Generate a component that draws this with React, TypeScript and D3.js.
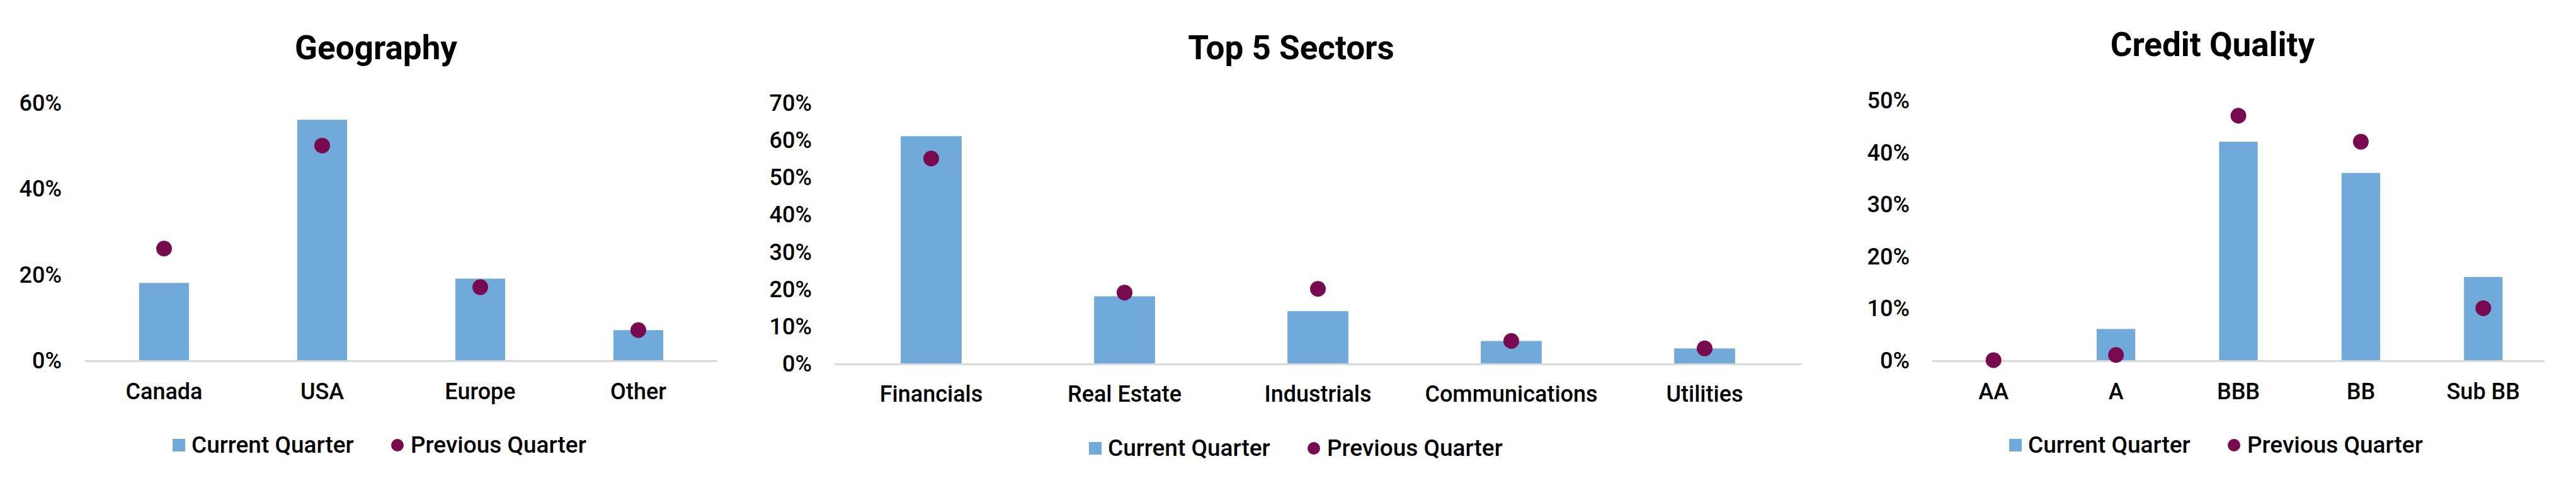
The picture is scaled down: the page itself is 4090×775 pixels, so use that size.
import * as d3 from "d3";

// values in percent
const geoCategories = ["Canada", "USA", "Europe", "Other"];
const geoCurrent = [18, 56, 19, 7];
const geoPrevious = [26, 50, 17, 7];
const geoTicks = [0, 20, 40, 60];

const sectorCategories = ["Financials", "Real Estate", "Industrials", "Communications", "Utilities"];
const sectorCurrent = [61, 18, 14, 6, 4];
const sectorPrevious = [55, 19, 20, 6, 4];
const sectorTicks = [0, 10, 20, 30, 40, 50, 60, 70];

const creditCategories = ["AA", "A", "BBB", "BB", "Sub BB"];
const creditCurrent = [0, 6, 42, 36, 16];
const creditPrevious = [0, 1, 47, 42, 10];
const creditTicks = [0, 10, 20, 30, 40, 50];

const legendLabels = ["Current Quarter", "Previous Quarter"];

const BAR = "#6FAADB";
const DOT = "#780A4F";
const AXIS = "#D9D9D9";
const FONT = "Roboto, 'DejaVu Sans', sans-serif";

interface PanelProps {
  title: string;
  categories: string[];
  current: number[];
  previous: number[];
  ticks: number[];
  x0: number;
  x1: number;
  yBase: number;
  yTop: number;
  labelRight: number;
  titleX: number;
  titleY: number;
  catY: number;
  legendX: number;
  legendY: number;
}

function Panel(p: PanelProps) {
  const x = d3
    .scaleBand<string>()
    .domain(p.categories)
    .range([p.x0, p.x1])
    .paddingInner(0.685)
    .paddingOuter(0.3425);
  const max = p.ticks[p.ticks.length - 1];
  const y = d3.scaleLinear().domain([0, max]).range([p.yBase, p.yTop]);
  const fmt = (v: number) => `${v}%`;

  return (
    <g fontFamily={FONT} fontWeight={500}>
      <text x={p.titleX} y={p.titleY} textAnchor="middle" fontSize={53} fontWeight={700} fill="#000">
        {p.title}
      </text>
      {p.ticks.map((t) => (
        <text key={t} x={p.labelRight} y={y(t)} dy="0.36em" textAnchor="end" fontSize={36} fill="#000">
          {fmt(t)}
        </text>
      ))}
      {p.categories.map((c, i) => (
        <rect
          key={c}
          x={x(c)}
          y={y(p.current[i])}
          width={x.bandwidth()}
          height={p.yBase - y(p.current[i])}
          fill={BAR}
        />
      ))}
      <line x1={p.x0} x2={p.x1} y1={p.yBase + 1.5} y2={p.yBase + 1.5} stroke={AXIS} strokeWidth={3} />
      {p.categories.map((c, i) => (
        <circle key={c} cx={(x(c) ?? 0) + x.bandwidth() / 2} cy={y(p.previous[i])} r={12.5} fill={DOT} />
      ))}
      {p.categories.map((c) => (
        <text
          key={c}
          x={(x(c) ?? 0) + x.bandwidth() / 2}
          y={p.catY}
          textAnchor="middle"
          fontSize={36}
          fill="#000"
        >
          {c}
        </text>
      ))}
      <g transform={`translate(${p.legendX},${p.legendY})`}>
        <rect x={-329} y={-22} width={20} height={20} fill={BAR} />
        <text x={-299} y={0} fontSize={37} fill="#000">
          {legendLabels[0]}
        </text>
        <circle cx={28} cy={-12} r={10} fill={DOT} />
        <text x={49} y={0} fontSize={37} fill="#000">
          {legendLabels[1]}
        </text>
      </g>
    </g>
  );
}

export default function App() {
  return (
    <>
      <style>{`body{margin:0;background:#fff}`}</style>
      <svg width={4090} height={775} viewBox="0 0 4090 775" style={{ display: "block" }}>
        <rect width={4090} height={775} fill="#fff" />
        <Panel
          title="Geography"
          categories={geoCategories}
          current={geoCurrent}
          previous={geoPrevious}
          ticks={geoTicks}
          x0={135}
          x1={1139}
          yBase={572}
          yTop={163}
          labelRight={98}
          titleX={597}
          titleY={94}
          catY={634}
          legendX={603}
          legendY={719}
        />
        <Panel
          title="Top 5 Sectors"
          categories={sectorCategories}
          current={sectorCurrent}
          previous={sectorPrevious}
          ticks={sectorTicks}
          x0={1325}
          x1={2860}
          yBase={577}
          yTop={163}
          labelRight={1289}
          titleX={2050}
          titleY={94}
          catY={638}
          legendX={2058}
          legendY={724}
        />
        <Panel
          title="Credit Quality"
          categories={creditCategories}
          current={creditCurrent}
          previous={creditPrevious}
          ticks={creditTicks}
          x0={3068}
          x1={4040}
          yBase={572}
          yTop={159}
          labelRight={3032}
          titleX={3513}
          titleY={89}
          catY={634}
          legendX={3519}
          legendY={719}
        />
      </svg>
    </>
  );
}
